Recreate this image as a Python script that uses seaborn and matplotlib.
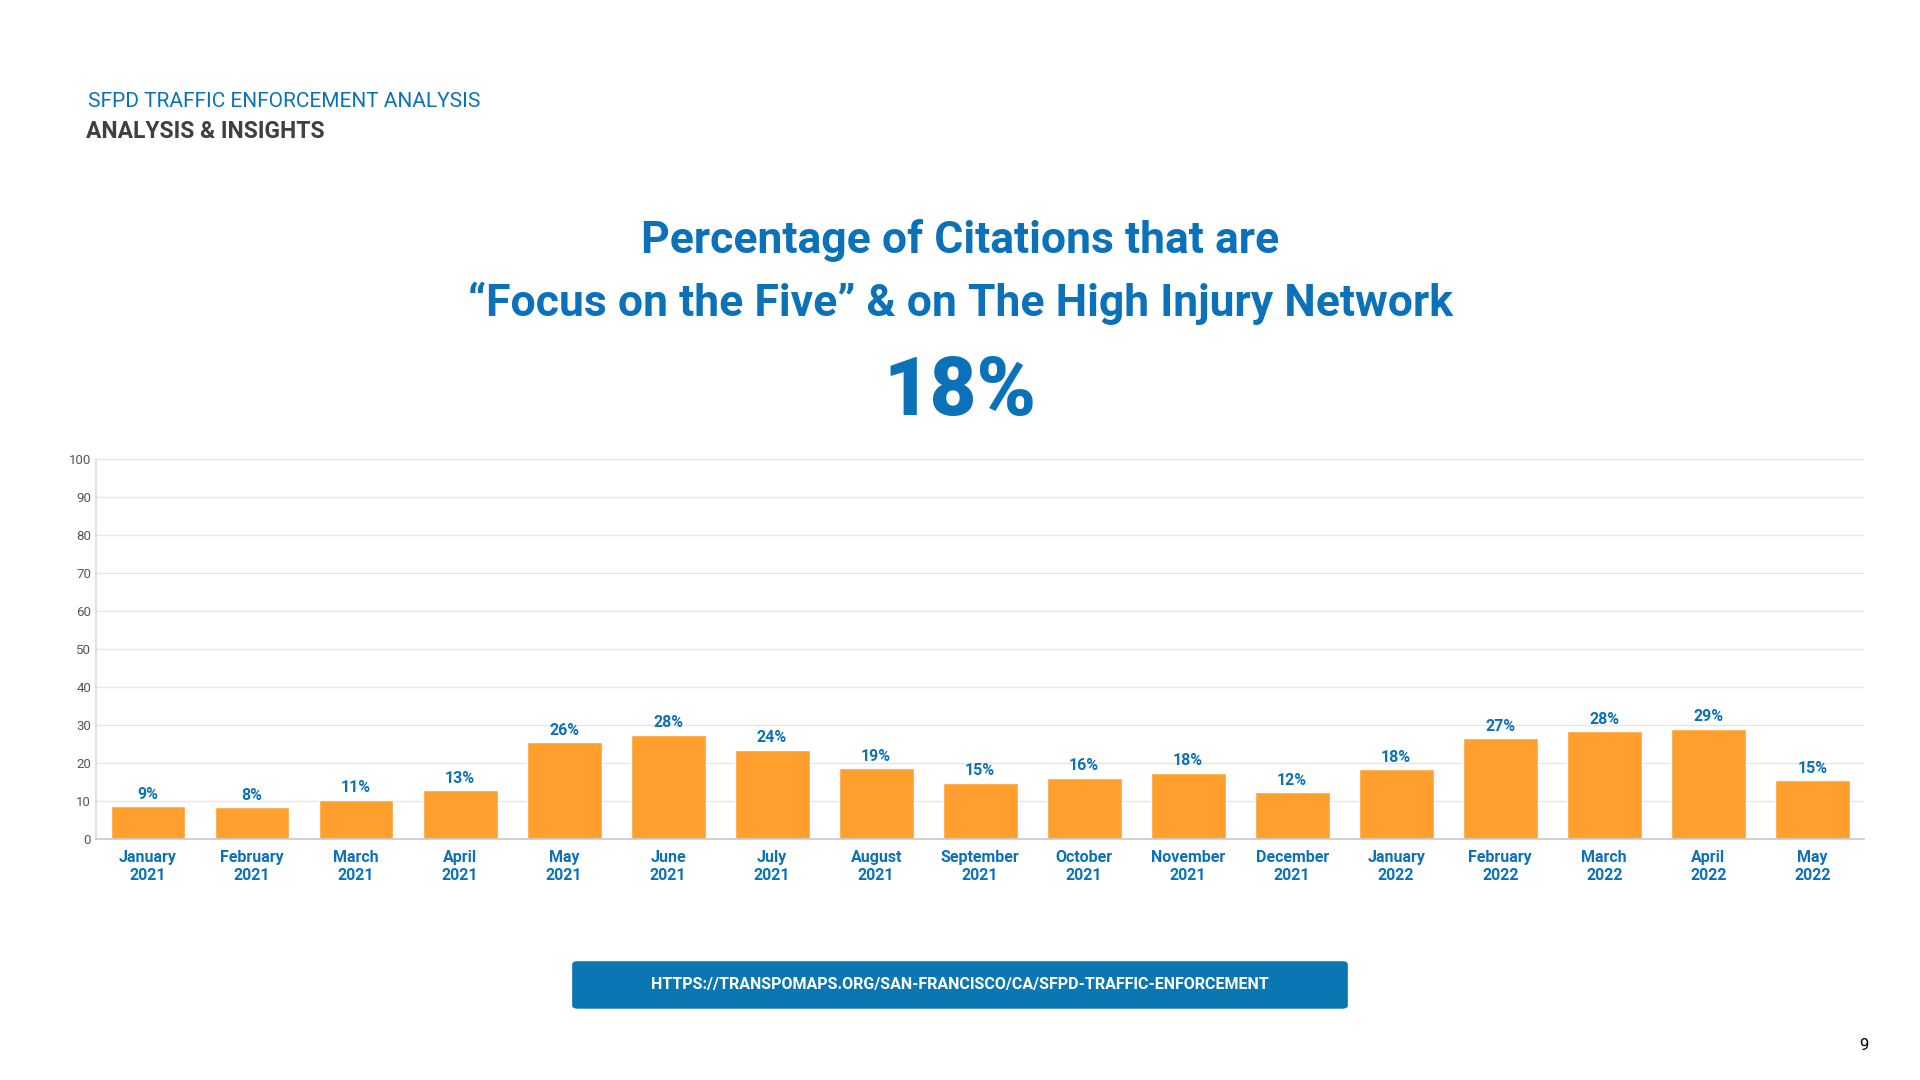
import matplotlib
matplotlib.use("Agg")
import matplotlib.pyplot as plt
import seaborn as sns
import pandas as pd
from matplotlib.patches import FancyBboxPatch

months = ["January\n2021","February\n2021","March\n2021","April\n2021","May\n2021","June\n2021",
          "July\n2021","August\n2021","September\n2021","October\n2021","November\n2021","December\n2021",
          "January\n2022","February\n2022","March\n2022","April\n2022","May\n2022"]
values = [8.7, 8.4, 10.4, 12.9, 25.5, 27.4, 23.5, 18.7, 14.8, 16.1, 17.4, 12.3, 18.4, 26.5, 28.4, 29.0, 15.5]
labels = ["9%","8%","11%","13%","26%","28%","24%","19%","15%","16%","18%","12%","18%","27%","28%","29%","15%"]
yticks = [0,10,20,30,40,50,60,70,80,90,100]

sns.set_theme(style="white")
plt.rcParams['font.family'] = ['Roboto', 'DejaVu Sans']
BLUE = "#0B72BA"
ORANGE = "#FFA02E"

fig = plt.figure(figsize=(19.2, 10.8), dpi=100)
ax = fig.add_axes([0.05, 0.223, 0.921, 0.352])
df = pd.DataFrame({"month": months, "value": values})
sns.barplot(data=df, x="month", y="value", color=ORANGE, saturation=1, width=0.72, ax=ax)
for i, (v, l) in enumerate(zip(values, labels)):
    ax.text(i, v + 1.2, l, ha="center", va="bottom", color=BLUE, fontsize=11.5, fontweight="bold")
ax.set_ylim(0, 100)
ax.set_yticks(yticks)
ax.set_xlim(-0.5, len(months) - 0.5)
ax.grid(axis="y", color="#E6E6E6", linewidth=1)
ax.set_axisbelow(True)
for s in ["top", "right"]:
    ax.spines[s].set_visible(False)
ax.spines["left"].set_color("#DDDDDD")
ax.spines["bottom"].set_color("#CCCCCC")
ax.tick_params(axis="y", labelsize=9.5, labelcolor="#555555", length=0)
ax.tick_params(axis="x", labelsize=11.5, labelcolor=BLUE, length=0, pad=8)
for t in ax.get_xticklabels():
    t.set_fontweight("bold")
ax.set_xlabel("")
ax.set_ylabel("")

fig.text(0.046, 0.906, "SFPD TRAFFIC ENFORCEMENT ANALYSIS", color=BLUE, fontsize=15, va="center")
fig.text(0.045, 0.878, "ANALYSIS & INSIGHTS", color="#404040", fontsize=16.5, fontweight="bold", va="center")
fig.text(0.5, 0.777, "Percentage of Citations that are", color=BLUE, fontsize=32, fontweight="bold", ha="center", va="center")
fig.text(0.5, 0.719, "\u201cFocus on the Five\u201d & on The High Injury Network", color=BLUE, fontsize=32, fontweight="bold", ha="center", va="center")
fig.text(0.5, 0.636, "18%", color=BLUE, fontsize=58, fontweight="black", ha="center", va="center")

box = FancyBboxPatch((0.298, 0.066), 0.404, 0.044, boxstyle="round,pad=0,rounding_size=0.003",
                     transform=fig.transFigure, facecolor="#0A77B2", edgecolor="none")
fig.patches.append(box)
fig.text(0.5, 0.088, "HTTPS://TRANSPOMAPS.ORG/SAN-FRANCISCO/CA/SFPD-TRAFFIC-ENFORCEMENT",
         color="white", fontsize=11.5, fontweight="bold", ha="center", va="center")
fig.text(0.973, 0.032, "9", color="black", fontsize=12, ha="right", va="center")

fig.savefig("out.png", dpi=100, facecolor="white")
